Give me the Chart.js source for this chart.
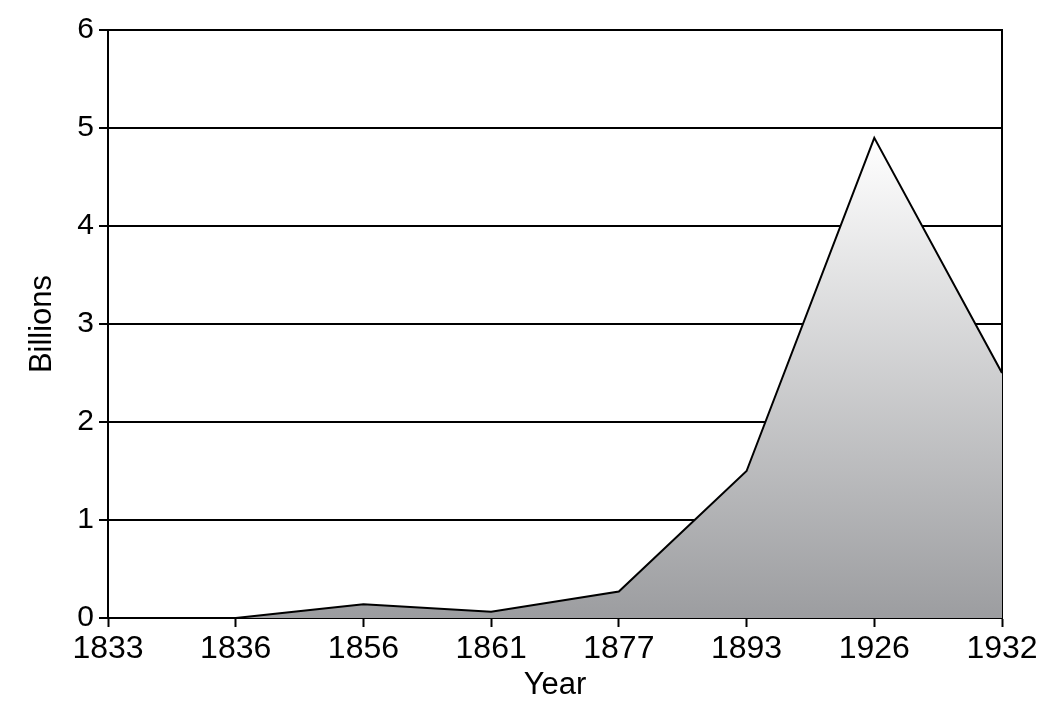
<!DOCTYPE html>
<html>
<head>
<meta charset="utf-8">
<title>Billions by year</title>
<script src="https://cdn.jsdelivr.net/npm/chart.js@4/dist/chart.umd.min.js"></script>
<style>
  html, body { margin: 0; padding: 0; background: #fff; }
  #wrap { width: 1042px; height: 725px; position: relative; }
</style>
</head>
<body>
<div id="wrap"><canvas id="chart"></canvas></div>
<script>
// years along the x axis (evenly spaced categories)
const years = ['1833', '1836', '1856', '1861', '1877', '1893', '1926', '1932'];
// billions (no value for 1833)
const billions = [null, 0, 0.14, 0.065, 0.27, 1.5, 4.9, 2.5];
const yTicks = [0, 1, 2, 3, 4, 5, 6];

const FONT = '"Liberation Sans", Arial, Helvetica, sans-serif';

// grey fill that fades to white towards the peak
function areaFill(context) {
  const chart = context.chart;
  if (!chart.chartArea) return '#c8c9cb';
  const y = chart.scales.y;
  const peak = Math.max(...billions.filter(v => v !== null));
  const g = chart.ctx.createLinearGradient(0, y.getPixelForValue(peak), 0, y.getPixelForValue(0));
  g.addColorStop(0, '#ffffff');
  g.addColorStop(1, '#9c9da0');
  return g;
}

const ctx = document.getElementById('chart').getContext('2d');

const myChart = new Chart(ctx, {
  type: 'line',
  data: {
    labels: years,
    datasets: [{
      label: 'Billions',
      data: billions,
      fill: 'origin',
      backgroundColor: areaFill,
      borderColor: '#000',
      borderWidth: 2,
      tension: 0,
      pointRadius: 0,
      spanGaps: false
    }]
  },
  options: {
    responsive: true,
    maintainAspectRatio: false,
    animation: false,
    layout: { padding: { top: 30, left: 0, right: 0, bottom: 0 } },
    plugins: {
      legend: { display: false },
      tooltip: { enabled: false }
    },
    scales: {
      x: {
        type: 'category',
        offset: false,
        grid: {
          drawOnChartArea: false,
          drawTicks: true,
          tickLength: 9,
          tickWidth: 2,
          color: '#000'
        },
        border: { display: true, color: '#000', width: 2 },
        ticks: {
          color: '#000',
          padding: 3,
          maxRotation: 0,
          autoSkip: false,
          font: { family: FONT, size: 32 }
        },
        title: {
          display: true,
          text: 'Year',
          color: '#000',
          padding: { top: 0, bottom: 21 },
          font: { family: FONT, size: 31 }
        },
        afterFit: (axis) => { axis.height = 107; }
      },
      y: {
        position: 'left',
        min: 0,
        max: 6,
        afterBuildTicks: (axis) => { axis.ticks = yTicks.map(v => ({ value: v })); },
        grid: {
          drawOnChartArea: true,
          drawTicks: true,
          tickLength: 9,
          lineWidth: 2,
          color: '#000'
        },
        border: { display: true, color: '#000', width: 2 },
        ticks: {
          color: '#000',
          padding: 5,
          font: { family: FONT, size: 30 }
        },
        title: {
          display: true,
          text: 'Billions',
          color: '#000',
          padding: { top: 24, bottom: 0 },
          font: { family: FONT, size: 31 }
        },
        afterFit: (axis) => { axis.width = 108; }
      },
      yRight: {
        position: 'right',
        min: 0,
        max: 6,
        grid: { drawOnChartArea: false, drawTicks: false },
        border: { display: true, color: '#000', width: 2 },
        ticks: { display: false },
        afterFit: (axis) => { axis.width = 40; }
      }
    }
  }
});
</script>
</body>
</html>
